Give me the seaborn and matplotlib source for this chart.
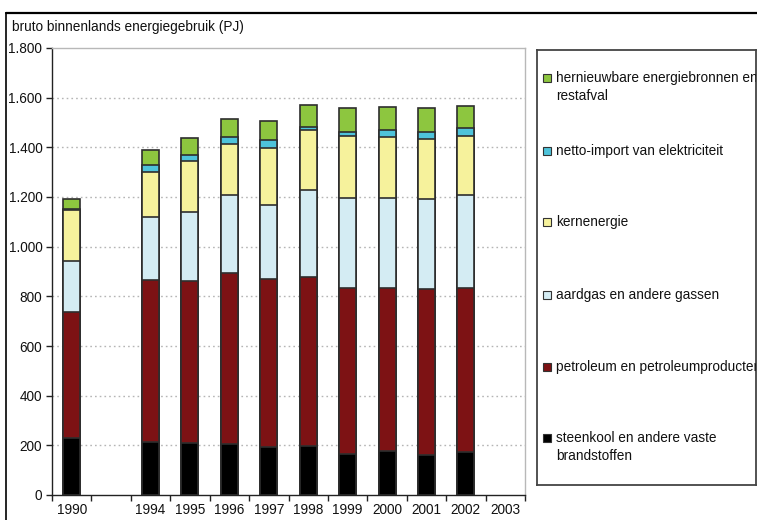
import numpy as np
import pandas as pd
import matplotlib
matplotlib.use("Agg")
import matplotlib.pyplot as plt
from matplotlib.lines import Line2D
import seaborn as sns

# Categories on the x axis (a blank slot separates 1990 from 1994)
order = ["1990", "", "1994", "1995", "1996", "1997", "1998", "1999",
         "2000", "2001", "2002", "2003"]
years = ["1990", "1994", "1995", "1996", "1997", "1998", "1999",
         "2000", "2001", "2002"]

# Gross inland energy use per source (PJ)
steenkool = [228, 215, 208, 204, 193, 199, 165, 179, 160, 172]
petroleum = [510, 651, 655, 691, 678, 680, 667, 653, 668, 660]
aardgas = [204, 255, 277, 313, 298, 349, 365, 365, 363, 376]
kernenergie = [206, 179, 205, 204, 230, 242, 249, 246, 241, 239]
netto_import = [4, 28, 24, 31, 31, 13, 16, 27, 31, 30]
hernieuwbaar = [39, 60, 70, 70, 75, 86, 95, 94, 94, 88]

series_names = [
    "steenkool en andere vaste\nbrandstoffen",
    "petroleum en petroleumproducten",
    "aardgas en andere gassen",
    "kernenergie",
    "netto-import van elektriciteit",
    "hernieuwbare energiebronnen en\nrestafval",
]
series_values = [steenkool, petroleum, aardgas, kernenergie, netto_import, hernieuwbaar]
series_colors = ["#000000", "#7d1214", "#d4ecf3", "#f6f29c", "#4ec3da", "#8dc63f"]

yticks = [0, 200, 400, 600, 800, 1000, 1200, 1400, 1600, 1800]
ytick_labels = ["0", "200", "400", "600", "800", "1.000", "1.200", "1.400", "1.600", "1.800"]

sns.set_style("white")
plt.rcParams["font.family"] = ["Liberation Sans", "DejaVu Sans"]
FS = 9.8

fig = plt.figure(figsize=(7.57, 5.2), dpi=100)
ax = fig.add_axes([52 / 757, 25 / 520, 473 / 757, 447 / 520])

# Stacked bars: draw cumulative totals from the top layer down so that each
# lower layer covers the part of the taller bar beneath it.
cum = np.cumsum(np.array(series_values), axis=0)
for i in range(len(series_names) - 1, -1, -1):
    df = pd.DataFrame({"jaar": years, "waarde": cum[i]})
    sns.barplot(data=df, x="jaar", y="waarde", order=order, color=series_colors[i],
                saturation=1, width=0.43, edgecolor="#2e2e2e", linewidth=1.2,
                errorbar=None, ax=ax, zorder=3)

ax.set_xlim(-0.5, len(order) - 0.5)
ax.set_ylim(0, 1800)
ax.set_xlabel("")
ax.set_ylabel("")

# y axis
ax.set_yticks(yticks)
ax.set_yticklabels(ytick_labels)
ax.tick_params(axis="y", which="major", direction="out", length=4, width=1,
               color="#222222", labelsize=FS, pad=3, left=True, labelcolor="#111111")
for y in yticks[1:-1]:
    ax.axhline(y, color="#b5b5b5", lw=1.0, ls=(0, (1.2, 2.2)), zorder=1)

# x axis: tick marks between categories, labels centred on categories
n = len(order)
ax.set_xticks(np.arange(-0.5, n, 1.0))
ax.set_xticklabels([""] * (n + 1))
ax.set_xticks(np.arange(n), minor=True)
ax.set_xticklabels(order, minor=True)
ax.tick_params(axis="x", which="major", direction="out", length=4, width=1,
               color="#222222", bottom=True)
ax.tick_params(axis="x", which="minor", length=0, labelsize=FS, pad=6,
               labelcolor="#111111")

for side in ["left", "bottom"]:
    ax.spines[side].set_color("#222222")
    ax.spines[side].set_linewidth(1.0)
for side in ["top", "right"]:
    ax.spines[side].set_visible(True)
    ax.spines[side].set_color("#b8b8b8")
    ax.spines[side].set_linewidth(1.0)

fig.text(12 / 757, 1 - 27 / 520, "bruto binnenlands energiegebruik (PJ)",
         fontsize=FS, va="center", ha="left", color="#111111")

# Outer frame lines (top and left)
fig.add_artist(Line2D([6 / 757, 1.0], [1 - 13 / 520, 1 - 13 / 520],
                      transform=fig.transFigure, color="#000000", lw=1.6))
fig.add_artist(Line2D([6 / 757, 6 / 757], [0, 1 - 13 / 520],
                      transform=fig.transFigure, color="#000000", lw=1.2))

# Legend panel
lx0, lx1, ly0, ly1 = 537, 756, 50, 485
lax = fig.add_axes([lx0 / 757, (520 - ly1) / 520, (lx1 - lx0) / 757, (ly1 - ly0) / 520])
lax.set_xlim(lx0, lx1)
lax.set_ylim(ly1, ly0)
lax.set_xticks([])
lax.set_yticks([])
for s in lax.spines.values():
    s.set_color("#444444")
    s.set_linewidth(1.3)

legend_rows = [78, 151, 222, 295, 367, 438]
for name, color, yrow in zip(series_names[::-1], series_colors[::-1], legend_rows):
    lax.plot([546.5], [yrow], marker="s", markersize=5.2, color=color,
             markeredgecolor="#333333", markeredgewidth=0.8)
    lax.text(556, yrow - 7, name, fontsize=FS, ha="left", va="top",
             color="#111111", linespacing=1.35, clip_on=True)

fig.savefig("out.png", dpi=100)
